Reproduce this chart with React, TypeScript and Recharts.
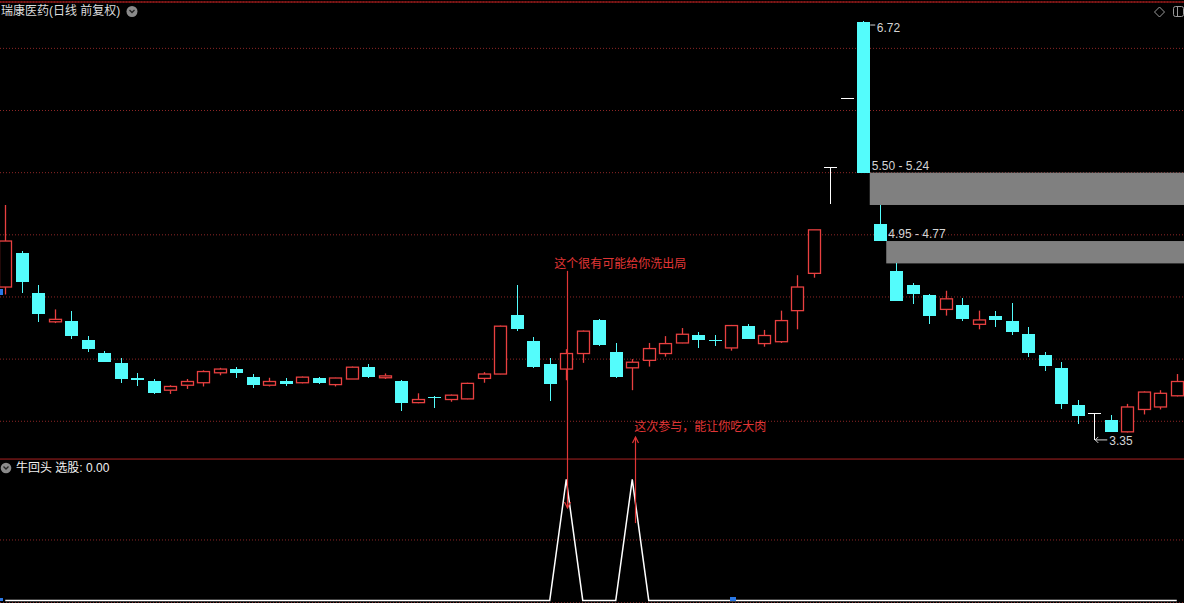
import React from 'react';
import {
  ComposedChart,
  Bar,
  Line,
  XAxis,
  YAxis,
  CartesianGrid,
  ReferenceLine,
  ReferenceArea,
  ReferenceDot,
} from 'recharts';

// ---------- data ----------
const categories = Array.from({ length: 72 }, (_, i) => `K${i + 1}`);

const opens = [
  4.58, 4.85, 4.53, 4.30, 4.31, 4.15, 4.05, 3.97, 3.85, 3.82,
  3.75, 3.79, 3.81, 3.89, 3.92, 3.86, 3.79, 3.82, 3.81, 3.85,
  3.795, 3.84, 3.94, 3.85, 3.82, 3.65, 3.695, 3.675, 3.68, 3.845,
  3.88, 4.355, 4.145, 3.96, 3.92, 4.045, 4.315, 4.055, 3.93, 3.99,
  4.045, 4.13, 4.195, 4.152, 4.09, 4.27, 4.125, 4.14, 4.39, 4.69,
  5.54, 6.10, 6.71, 5.09, 4.71, 4.60, 4.515, 4.40, 4.435, 4.28,
  4.345, 4.305, 4.20, 4.035, 3.925, 3.63, 3.56, 3.51, 3.415, 3.595,
  3.615, 3.705,
];
const highs = [
  5.24, 4.87, 4.60, 4.40, 4.39, 4.19, 4.065, 4.01, 3.89, 3.84,
  3.79, 3.84, 3.91, 3.93, 3.94, 3.88, 3.85, 3.845, 3.86, 3.856,
  3.85, 3.94, 3.96, 3.885, 3.83, 3.725, 3.70, 3.715, 3.81, 3.895,
  4.27, 4.60, 4.18, 4.01, 4.08, 4.23, 4.325, 4.13, 4.00, 4.13,
  4.185, 4.25, 4.22, 4.195, 4.275, 4.28, 4.235, 4.39, 4.675, 5.04,
  5.54, 6.10, 6.72, 5.24, 4.77, 4.61, 4.52, 4.55, 4.49, 4.39,
  4.39, 4.45, 4.26, 4.055, 3.975, 3.67, 3.56, 3.55, 3.64, 3.74,
  3.75, 3.88,
];
const lows = [
  4.52, 4.53, 4.30, 4.29, 4.16, 4.06, 3.975, 3.81, 3.78, 3.72,
  3.72, 3.76, 3.78, 3.87, 3.85, 3.77, 3.78, 3.78, 3.805, 3.80,
  3.78, 3.84, 3.85, 3.84, 3.585, 3.645, 3.61, 3.657, 3.677, 3.81,
  3.878, 4.23, 3.93, 3.66, 3.83, 3.97, 4.105, 3.845, 3.75, 3.94,
  4.02, 4.128, 4.09, 4.108, 4.068, 4.16, 4.10, 4.13, 4.24, 4.655,
  5.25, 6.10, 5.50, 4.95, 4.465, 4.44, 4.28, 4.35, 4.31, 4.24,
  4.26, 4.195, 4.02, 3.905, 3.60, 3.48, 3.35, 3.41, 3.41, 3.555,
  3.595, 3.70,
];
const closes = [
  4.95, 4.62, 4.36, 4.32, 4.19, 4.08, 3.98, 3.84, 3.83, 3.73,
  3.78, 3.82, 3.90, 3.92, 3.89, 3.79, 3.82, 3.80, 3.855, 3.81,
  3.848, 3.935, 3.86, 3.865, 3.65, 3.675, 3.69, 3.71, 3.805, 3.88,
  4.265, 4.245, 3.935, 3.80, 4.045, 4.225, 4.115, 3.855, 3.975, 4.085,
  4.125, 4.20, 4.155, 4.148, 4.27, 4.165, 4.19, 4.31, 4.58, 5.04,
  5.54, 6.10, 5.50, 4.95, 4.47, 4.52, 4.35, 4.485, 4.325, 4.315,
  4.315, 4.22, 4.05, 3.945, 3.635, 3.545, 3.56, 3.415, 3.615, 3.735,
  3.725, 3.82,
];
// 牛回头 选股 signal
const signal = [
  0, 0, 0, 0, 0, 0, 0, 0, 0, 0,
  0, 0, 0, 0, 0, 0, 0, 0, 0, 0,
  0, 0, 0, 0, 0, 0, 0, 0, 0, 0,
  0, 0, 0, 0, 1, 0, 0, 0, 1, 0,
  0, 0, 0, 0, 0, 0, 0, 0, 0, 0,
  0, 0, 0, 0, 0, 0, 0, 0, 0, 0,
  0, 0, 0, 0, 0, 0, 0, 0, 0, 0,
  0, 0,
];
const priceGridValues = [3.5, 4.0, 4.5, 5.0, 5.5, 6.0, 6.5];
const signalGridValues = [0.5];

const gapZones = [
  { startIndex: 53, labelIndex: 52, low: 5.24, high: 5.5, label: '5.50 - 5.24' },
  { startIndex: 54, labelIndex: 53, low: 4.77, high: 4.95, label: '4.95 - 4.77' },
];
const peakIndex = 52;
const peakValue = 6.72;
const troughIndex = 66;
const troughValue = 3.35;

const notes = [
  { index: 34, textAt: 4.769, text: '这个很有可能给你洗出局', from: 4.71, to: 2.802, textDx: -12, lineDx: 1 },
  { index: 38, textAt: 3.45, text: '这次参与，能让你吃大肉', from: 2.681, to: 3.373, textDx: 2, lineDx: 2.5 },
];

// ---------- layout / style ----------
const W = 1188;
const H = 603;
const BAND = W / categories.length;
const BAR = 13;
const PAD = (BAND - BAR) / 2;
const MAIN_DOMAIN: [number, number] = [2.038, 6.873];
const IND_DOMAIN: [number, number] = [-0.021, 4.946];
const PANEL_SPLIT = 3.196;

const UP = '#e84040';
const DOWN = '#54fcfc';
const FLAT = '#ffffff';
const GRID = '#8e2626';
const ANNOT = '#e03636';
const LABEL = '#d4d4d4';
const GAP_FILL = '#808080';
const MARKER = '#2a78e6';
const FONT = '"Liberation Sans", Arial, "Noto Sans CJK SC", sans-serif';

const data = categories.map((name, i) => ({
  name,
  open: opens[i],
  high: highs[i],
  low: lows[i],
  close: closes[i],
  range: [MAIN_DOMAIN[0], highs[i]],
  signal: signal[i],
}));

function Candle(props: any) {
  const { x, y, width, height, payload } = props;
  if (!payload || width == null) return null;
  const { open, high, low, close } = payload;
  const top = height >= 0 ? y : y + height;
  const h = Math.abs(height);
  const k = h / (high - MAIN_DOMAIN[0]);
  const py = (v: number) => top + (high - v) * k;
  const cx = Math.floor(x + width / 2) + 0.5;
  const yH = py(high);
  const yL = py(low);
  const yO = py(open);
  const yC = py(close);
  if (close > open) {
    return (
      <g>
        <line x1={cx} y1={yH} x2={cx} y2={yC} stroke={UP} strokeWidth={1.3} />
        <line x1={cx} y1={yO} x2={cx} y2={yL} stroke={UP} strokeWidth={1.3} />
        <rect
          x={cx - 6}
          y={yC}
          width={12}
          height={Math.max(yO - yC, 1)}
          fill="#000"
          stroke={UP}
          strokeWidth={1.3}
        />
      </g>
    );
  }
  if (close < open) {
    return (
      <g shapeRendering="crispEdges">
        <line x1={cx} y1={yH} x2={cx} y2={yL} stroke={DOWN} />
        <rect x={cx - 6.5} y={yO} width={13} height={Math.max(yC - yO, 1)} fill={DOWN} />
      </g>
    );
  }
  return (
    <g shapeRendering="crispEdges">
      {yL - yH > 0.5 && <line x1={cx} y1={yH} x2={cx} y2={yL} stroke={FLAT} />}
      <line x1={cx - 6.5} y1={yO} x2={cx + 6.5} y2={yO} stroke={FLAT} />
    </g>
  );
}

const GapBox = (p: any) => (
  <rect x={p.x - PAD} y={p.y} width={p.width + PAD} height={p.height} fill={GAP_FILL} />
);

const arrowShape = (dx: number) => (p: any) => {
  const x = Math.round(p.x1 + dx) + 0.5;
  const dir = p.y2 > p.y1 ? 1 : -1;
  return (
    <g>
      <line x1={x} y1={p.y1} x2={x} y2={p.y2} stroke={ANNOT} strokeWidth={1.2} />
      <polyline
        points={`${x - 3},${p.y2 - dir * 6} ${x},${p.y2} ${x + 3},${p.y2 - dir * 6}`}
        fill="none"
        stroke={ANNOT}
        strokeWidth={1.2}
      />
    </g>
  );
};

const noteText = (text: string, dx: number) => (p: any) => (
  <text x={p.cx + dx} y={p.cy} fill={ANNOT} fontSize={12} fontFamily={FONT} dominantBaseline="central">
    {text}
  </text>
);

const gapLabel = (text: string) => (p: any) => (
  <text x={p.cx + 8.5} y={p.cy - 7} fill={LABEL} fontSize={12} fontFamily={FONT} dominantBaseline="central">
    {text}
  </text>
);

const PeakLabel = (p: any) => (
  <g>
    <line x1={p.cx + 7} y1={p.cy + 4} x2={p.cx + 12} y2={p.cy + 4} stroke={LABEL} />
    <text x={p.cx + 13.5} y={p.cy + 7} fill={LABEL} fontSize={12} fontFamily={FONT} dominantBaseline="central">
      {peakValue.toFixed(2)}
    </text>
  </g>
);

const TroughLabel = (p: any) => (
  <g>
    <line x1={p.cx + 1} y1={p.cy} x2={p.cx + 13} y2={p.cy} stroke={LABEL} />
    <polyline points={`${p.cx + 4},${p.cy - 3} ${p.cx + 1},${p.cy} ${p.cx + 4},${p.cy + 3}`} fill="none" stroke={LABEL} />
    <text x={p.cx + 15} y={p.cy + 1} fill={LABEL} fontSize={12} fontFamily={FONT} dominantBaseline="central">
      {troughValue.toFixed(2)}
    </text>
  </g>
);

export default function App() {
  return (
    <div
      style={{
        position: 'absolute',
        left: 0,
        top: 0,
        width: 1184,
        height: 603,
        overflow: 'hidden',
        background: '#000',
      }}
    >
      <div style={{ position: 'absolute', left: -3, top: 0 }}>
        <ComposedChart width={W} height={H} data={data} margin={{ top: 2, right: 0, bottom: 0, left: 0 }}>
          <XAxis dataKey="name" type="category" hide />
          <YAxis yAxisId="main" hide domain={MAIN_DOMAIN} allowDataOverflow ticks={priceGridValues} />
          <YAxis yAxisId="ind" hide domain={IND_DOMAIN} allowDataOverflow ticks={signalGridValues} />
          <CartesianGrid yAxisId="main" vertical={false} stroke={GRID} strokeDasharray="1 2" />
          <CartesianGrid yAxisId="ind" vertical={false} stroke={GRID} strokeDasharray="1 2" />
          <ReferenceLine yAxisId="main" y={MAIN_DOMAIN[1]} stroke="#861616" strokeWidth={1.5} />
          <ReferenceLine yAxisId="main" y={PANEL_SPLIT} stroke="#aa2222" />
          {gapZones.map((g) => (
            <ReferenceArea
              key={g.label}
              yAxisId="main"
              x1={categories[g.startIndex]}
              y1={g.low}
              y2={g.high}
              shape={GapBox}
            />
          ))}
          <Bar yAxisId="main" dataKey="range" barSize={BAR} shape={Candle} isAnimationActive={false} />
          <Line
            yAxisId="ind"
            dataKey="signal"
            type="linear"
            stroke="#ffffff"
            strokeWidth={1.5}
            dot={false}
            activeDot={false}
            isAnimationActive={false}
          />
          {gapZones.map((g) => (
            <ReferenceDot
              key={`l-${g.label}`}
              yAxisId="main"
              x={categories[g.labelIndex]}
              y={g.high}
              r={0}
              shape={gapLabel(g.label)}
            />
          ))}
          <ReferenceDot yAxisId="main" x={categories[peakIndex]} y={peakValue} r={0} shape={PeakLabel} />
          <ReferenceDot yAxisId="main" x={categories[troughIndex]} y={troughValue} r={0} shape={TroughLabel} />
          {notes.map((n) => (
            <ReferenceLine
              key={`a-${n.index}`}
              yAxisId="main"
              segment={[
                { x: categories[n.index], y: n.from },
                { x: categories[n.index], y: n.to },
              ]}
              shape={arrowShape(n.lineDx)}
            />
          ))}
          {notes.map((n) => (
            <ReferenceDot
              key={`t-${n.index}`}
              yAxisId="main"
              x={categories[n.index]}
              y={n.textAt}
              r={0}
              shape={noteText(n.text, n.textDx)}
            />
          ))}
        </ComposedChart>
      </div>
      <svg
        width={1184}
        height={603}
        style={{ position: 'absolute', left: 0, top: 0, pointerEvents: 'none' }}
      >
        <text x={1} y={11} fill="#dcdcdc" fontSize={12} fontFamily={FONT} dominantBaseline="central">
          瑞康医药(日线 前复权)
        </text>
        <circle cx={132} cy={11.5} r={5.5} fill="#8a8a8a" />
        <polyline points="129.5,10 132,12.5 134.5,10" fill="none" stroke="#222" strokeWidth={1.3} />
        <polygon points="1159.5,7 1164.5,12 1159.5,17 1154.5,12" fill="none" stroke="#9a9a9a" />
        <rect x={1173.5} y={6.5} width={10} height={10} rx={2} fill="none" stroke="#9a9a9a" />
        <line x1={1177.5} y1={7} x2={1177.5} y2={16} stroke="#9a9a9a" />
        <circle cx={6} cy={468} r={5.3} fill="#8a8a8a" />
        <polyline points="3.5,466.5 6,469 8.5,466.5" fill="none" stroke="#222" strokeWidth={1.3} />
        <text x={16} y={467.5} fill="#f0f0f0" fontSize={12} fontFamily={FONT} dominantBaseline="central">
          牛回头 选股: 0.00
        </text>
        <rect x={0} y={289} width={3} height={6} fill={MARKER} />
        <rect x={0} y={598} width={3} height={3} fill={MARKER} />
        <rect x={730} y={597} width={6} height={4} fill={MARKER} />
      </svg>
    </div>
  );
}
